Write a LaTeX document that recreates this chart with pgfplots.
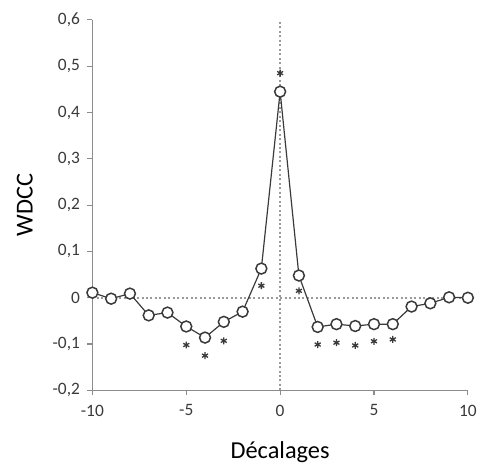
\documentclass[border=0pt]{standalone}
\usepackage{pgfplots}
\pgfplotsset{compat=1.18}
\usepackage{fontspec}
\setmainfont{Carlito}
\definecolor{dk}{HTML}{3A3A3A}
\definecolor{ax}{HTML}{8C8C8C}
\definecolor{dt}{HTML}{9A9A9A}
\begin{document}
\begin{tikzpicture}
\begin{axis}[
  at={(0,0)}, anchor=south west,
  scale only axis, width=378pt, height=373pt,
  xmin=-10, xmax=10, ymin=-0.2, ymax=0.6,
  axis x line*=bottom, axis y line*=left,
  axis line style={ax, line width=1.3pt, -},
  xtick={-10,-5,0,5,10},
  ytick={-0.2,-0.1,0,0.1,0.2,0.3,0.4,0.5,0.6},
  tick align=outside, major tick length=5pt,
  tick style={ax, line width=1.2pt},
  /pgf/number format/assume math mode=true,
  /pgf/number format/use comma,
  /pgf/number format/fixed,
  yticklabel style={font=\fontsize{17.5}{17.5}\selectfont, text=dk, xshift=-4pt},
  xticklabel style={font=\fontsize{17.5}{17.5}\selectfont, text=dk, yshift=-6pt},
  xlabel={Décalages}, ylabel={WDCC},
  label style={font=\fontsize{24.5}{24.5}\selectfont, text=black},
  xlabel style={at={(axis description cs:0.5,0)}, anchor=center, yshift=-62pt},
  ylabel style={at={(axis description cs:0,0.5)}, anchor=center, rotate=0, yshift=68pt},
  clip=false,
]
\addplot[dt, dash pattern=on 2pt off 2.5pt, line width=1.8pt] coordinates {(-10,0) (10,0)};
\addplot[dt, dash pattern=on 2pt off 2.5pt, line width=1.8pt] coordinates {(0,-0.2) (0,0.6)};
\addplot[dk, line width=1.2pt, mark=*, mark size=5.5pt,
  mark options={fill=white, draw=dk, line width=1.5pt}] coordinates {
(-10,0.011) (-9,-0.002) (-8,0.009) (-7,-0.038) (-6,-0.032) (-5,-0.062)
(-4,-0.086) (-3,-0.052) (-2,-0.030) (-1,0.063) (0,0.445) (1,0.048)
(2,-0.063) (3,-0.057) (4,-0.061) (5,-0.057) (6,-0.057) (7,-0.019)
(8,-0.012) (9,0.001) (10,0.0)};
\addplot[only marks, dk, mark=asterisk, mark size=3.5pt, mark options={line width=1.3pt}] coordinates {
(-5,-0.102) (-4,-0.125) (-3,-0.093) (-1,0.026) (0,0.485) (1,0.015)
(2,-0.101) (3,-0.097) (4,-0.103) (5,-0.094) (6,-0.090)};
\end{axis}
\useasboundingbox (-93pt,-75pt) rectangle (387pt,393pt);
\end{tikzpicture}
\end{document}
